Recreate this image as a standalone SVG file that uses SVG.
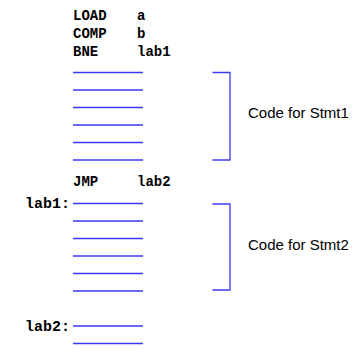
<svg xmlns="http://www.w3.org/2000/svg" width="354" height="360" viewBox="0 0 354 360">
<style>
.m{font-family:"Liberation Mono","Courier New",monospace;font-weight:bold;font-size:14px;fill:#000}
.s{font-family:"Liberation Sans",Arial,sans-serif;font-size:15px;fill:#000}
.ln{stroke:#3a3af2;stroke-width:1.3;fill:none}
</style>
<rect width="354" height="360" fill="#fff"/>
<g id="code1">
<text class="m" x="73" y="19.5">LOAD</text><text class="m" x="137" y="19.5">a</text>
<text class="m" x="73" y="37.5">COMP</text><text class="m" x="137" y="37.5">b</text>
<text class="m" x="73" y="56">BNE</text><text class="m" x="137" y="56">lab1</text>
</g>
<g id="stmt1-lines">
<path class="ln" d="M73 72.5H143M73 90H143M73 107.5H143M73 125H143M73 142.5H143M73 160H143"/>
</g>
<g id="jmp">
<text class="m" x="73" y="186">JMP</text><text class="m" x="137" y="186">lab2</text>
</g>
<g id="stmt2-lines">
<text class="m" x="25" y="207.5" textLength="45" lengthAdjust="spacingAndGlyphs">lab1:</text>
<path class="ln" d="M73 203.5H143M73 221H143M73 238.5H143M73 256H143M73 273.5H143M73 291H143"/>
</g>
<g id="lab2">
<text class="m" x="25" y="330.5" textLength="45" lengthAdjust="spacingAndGlyphs">lab2:</text>
<path class="ln" d="M73 326H143M73 343.5H143"/>
</g>
<g id="connectors">
<path class="ln" d="M212.5 72.5H230V160H212.5"/>
<path class="ln" d="M212.5 204H230V290H212.5"/>
</g>
<g id="label1"><text class="s" x="248" y="117.5">Code for Stmt1</text></g>
<g id="label2"><text class="s" x="248" y="249.5">Code for Stmt2</text></g>
</svg>
